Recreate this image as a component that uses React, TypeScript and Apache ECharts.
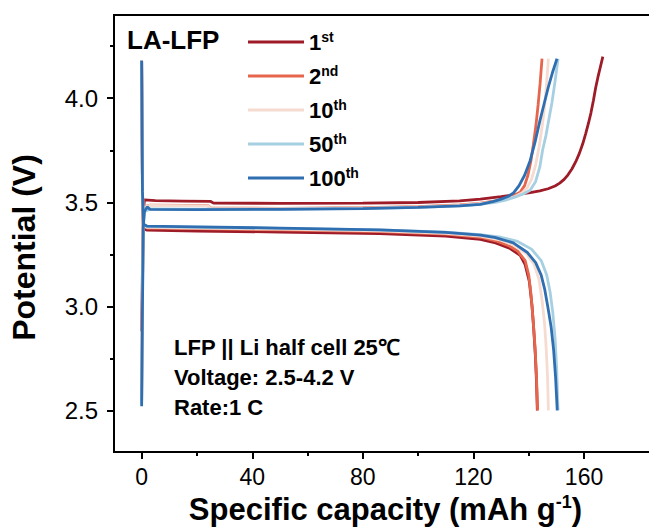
import React, { useEffect, useRef } from "react";
import * as echarts from "echarts";

// ---------- data ----------
const cycles = ["1st", "2nd", "10th", "50th", "100th"];

const xMajorTicks = [0, 40, 80, 120, 160];
const xMinorTicks = [20, 60, 100, 140];
const yMajorTicks = [2.5, 3.0, 3.5, 4.0];
const yMinorTicks = [2.75, 3.25, 3.75, 4.25];

// charge curves [capacity mAh/g, potential V]
const charge1st: [number, number][] = [
  [0, 2.88], [0.3, 3.2], [0.6, 3.45], [1, 3.512], [5, 3.508], [15, 3.506], [25, 3.504], [26, 3.496],
  [50, 3.495], [80, 3.496], [100, 3.499], [115, 3.507], [122.5, 3.515], [130, 3.527], [136, 3.538],
  [140.5, 3.547], [144, 3.555], [147, 3.565], [149.5, 3.578], [151.2, 3.592], [152.8, 3.61], [154.2, 3.632],
  [155.6, 3.66], [157, 3.695], [158.3, 3.735], [159.5, 3.78], [160.6, 3.83], [161.6, 3.88], [162.5, 3.93],
  [163.4, 3.99], [164.2, 4.05], [165, 4.1], [165.9, 4.15], [166.8, 4.2],
];
const charge2nd: [number, number][] = [
  [0, 2.55], [0.3, 3.1], [0.6, 3.42], [1, 3.478], [3, 3.486], [15, 3.485], [24, 3.484], [25, 3.472],
  [50, 3.471], [80, 3.474], [100, 3.479], [115, 3.487], [122, 3.495], [128, 3.507], [132, 3.52],
  [135, 3.535], [137, 3.55], [138.5, 3.58], [139.7, 3.63], [140.8, 3.7], [141.7, 3.78], [142.6, 3.87],
  [143.4, 3.97], [144.1, 4.07], [144.8, 4.19],
];
const charge10th: [number, number][] = [
  [0, 2.55], [0.3, 3.1], [0.6, 3.42], [1, 3.476], [3, 3.485], [15, 3.484], [24, 3.483], [25, 3.47],
  [50, 3.469], [80, 3.472], [100, 3.477], [115, 3.485], [122, 3.493], [128, 3.503], [132, 3.515],
  [135, 3.528], [137.5, 3.545], [139.5, 3.57], [141, 3.61], [142.5, 3.68], [143.8, 3.77], [144.9, 3.87],
  [145.8, 3.97], [146.5, 4.08], [147.1, 4.19],
];
const charge50th: [number, number][] = [
  [0, 2.53], [0.3, 3.05], [0.6, 3.4], [1, 3.455], [3, 3.468], [20, 3.467], [50, 3.467], [80, 3.471],
  [100, 3.476], [115, 3.483], [122, 3.49], [128, 3.5], [132, 3.512], [135, 3.525], [138, 3.54],
  [140.5, 3.558], [142.5, 3.6], [144, 3.67], [145, 3.75], [146.2, 3.82], [147.3, 3.9], [148.4, 3.98],
  [149.5, 4.08], [150.6, 4.19],
];
const charge100th: [number, number][] = [
  [0, 2.52], [0.3, 3.0], [0.6, 3.38], [1, 3.455], [2, 3.478], [3, 3.466], [20, 3.465], [50, 3.466],
  [80, 3.47], [100, 3.476], [115, 3.483], [122.5, 3.49], [127, 3.503], [130, 3.515], [132.5, 3.528],
  [134.5, 3.545], [136.5, 3.58], [138.5, 3.63], [140.5, 3.7], [142.3, 3.79], [144, 3.89], [145.5, 3.97],
  [147, 4.05], [148.5, 4.12], [150.2, 4.19],
];

// discharge curves
const discharge1st: [number, number][] = [
  [0, 4.18], [0.3, 3.5], [0.7, 3.372], [2, 3.366], [20, 3.362], [50, 3.357], [86, 3.35], [110, 3.338],
  [122.5, 3.322], [128, 3.305], [133, 3.28], [136.9, 3.245], [138.7, 3.2], [140.2, 3.12], [141.2, 3.0],
  [141.8, 2.89], [142.4, 2.76], [142.8, 2.64], [143.1, 2.5],
];
const discharge2nd: [number, number][] = [
  [0, 4.18], [0.3, 3.55], [0.7, 3.385], [2, 3.376], [20, 3.373], [50, 3.367], [86, 3.359], [110, 3.347],
  [122.5, 3.332], [128, 3.315], [133, 3.29], [136, 3.265], [138.7, 3.22], [140, 3.15], [140.8, 3.06],
  [141.6, 2.93], [142.3, 2.8], [142.8, 2.66], [143.2, 2.5],
];
const discharge10th: [number, number][] = [
  [0, 4.18], [0.3, 3.55], [0.7, 3.39], [2, 3.379], [20, 3.376], [50, 3.371], [86, 3.363], [110, 3.351],
  [122.5, 3.337], [130, 3.318], [135, 3.292], [139, 3.255], [142, 3.2], [143.7, 3.13], [144.8, 3.03],
  [145.7, 2.92], [146.3, 2.8], [146.8, 2.66], [147.1, 2.5],
];
const discharge50th: [number, number][] = [
  [0, 4.18], [0.3, 3.55], [0.7, 3.392], [2, 3.383], [20, 3.38], [50, 3.375], [86, 3.367], [110, 3.356],
  [122.5, 3.345], [130, 3.332], [136, 3.312], [141, 3.275], [144.5, 3.22], [146.5, 3.15], [147.7, 3.07],
  [148.7, 2.97], [149.5, 2.85], [150.1, 2.7], [150.6, 2.5],
];
const discharge100th: [number, number][] = [
  [0, 4.18], [0.3, 3.55], [0.7, 3.395], [2, 3.385], [20, 3.382], [50, 3.376], [86, 3.367], [110, 3.355],
  [122.5, 3.342], [128, 3.33], [134.4, 3.305], [139.4, 3.26], [142.5, 3.21], [144.5, 3.15], [145.8, 3.08],
  [147, 2.99], [148.1, 2.9], [149, 2.79], [149.7, 2.66], [150.3, 2.5],
];

const chargeCurves = [charge1st, charge2nd, charge10th, charge50th, charge100th];
const dischargeCurves = [discharge1st, discharge2nd, discharge10th, discharge50th, discharge100th];

const annotationLines = ["LFP || Li half cell 25\u2103", "Voltage: 2.5-4.2 V", "Rate:1 C"];
const sampleLabel = "LA-LFP";

// ---------- styles ----------
const colors = ["#9E1B28", "#E5664D", "#F6DBD0", "#A7CFE2", "#2F6FB1"];
const FONT = '"Liberation Sans", Arial, sans-serif';

export default function App() {
  const ref = useRef<HTMLDivElement>(null);

  useEffect(() => {
    if (!ref.current) return;
    const chart = echarts.init(ref.current, undefined, { renderer: "svg" });

    const series: any[] = [];
    cycles.forEach((name, i) => {
      [chargeCurves[i], dischargeCurves[i]].forEach((d) => {
        series.push({
          name,
          type: "line",
          data: d,
          showSymbol: false,
          symbol: "none",
          color: colors[i],
          lineStyle: { width: 2.8, color: colors[i] },
          z: 2 + i,
          silent: true,
        });
      });
    });

    const option: any = {
      animation: false,
      backgroundColor: "#fff",
      textStyle: { fontFamily: FONT },
      grid: {
        left: 114,
        top: 15,
        right: 3,
        bottom: 75,
        show: true,
        borderColor: "#000",
        borderWidth: 2,
        backgroundColor: "transparent",
        outerBoundsMode: "none",
        containLabel: false,
      },
      legend: {
        data: cycles,
        orient: "vertical",
        left: 248,
        top: 30,
        padding: 0,
        icon: "rect",
        itemWidth: 56,
        itemHeight: 3,
        itemGap: 11,
        selectedMode: false,
        formatter: (name: string) => {
          const m = name.match(/^(\d+)(\D+)$/);
          return m ? `{n|${m[1]}}{s|${m[2]}}` : name;
        },
        textStyle: {
          rich: {
            n: { fontSize: 22, fontWeight: "bold", color: "#000", fontFamily: FONT, lineHeight: 24 },
            s: { fontSize: 14, fontWeight: "bold", color: "#000", fontFamily: FONT, verticalAlign: "top", lineHeight: 14 },
          },
        },
      },
      xAxis: [
        {
          type: "value",
          min: -10,
          max: 190,
          position: "bottom",
          name: "{a|Specific capacity (mAh g}{s|-1}{a|)}",
          nameLocation: "middle",
          nameGap: 26,
          nameTextStyle: {
            padding: [0, 10, 0, 0],
            rich: {
              a: { fontSize: 31, fontWeight: "bold", color: "#000", fontFamily: FONT, lineHeight: 34 },
              s: { fontSize: 18, fontWeight: "bold", color: "#000", fontFamily: FONT, verticalAlign: "top", lineHeight: 18 },
            },
          },
          axisLine: { show: true, onZero: false, lineStyle: { color: "#000", width: 2 } },
          axisTick: { show: true, inside: false, length: 7, customValues: xMajorTicks, lineStyle: { color: "#000", width: 2 } },
          axisLabel: { show: true, customValues: xMajorTicks, fontSize: 23, color: "#000", margin: 13, fontFamily: FONT },
          splitLine: { show: false },
        },
        {
          type: "value",
          min: -10,
          max: 190,
          position: "bottom",
          axisLine: { show: false, onZero: false },
          axisTick: { show: true, inside: false, length: 4, customValues: xMinorTicks, lineStyle: { color: "#000", width: 2 } },
          axisLabel: { show: false },
          splitLine: { show: false },
        },
      ],
      yAxis: [
        {
          type: "value",
          min: 2.3,
          max: 4.4,
          position: "left",
          name: "Potential (V)",
          nameLocation: "middle",
          nameRotate: 90,
          nameGap: 74,
          nameTextStyle: { fontSize: 32, fontWeight: "bold", color: "#000", fontFamily: FONT, padding: [0, 28, 0, 0] },
          axisLine: { show: true, onZero: false, lineStyle: { color: "#000", width: 2 } },
          axisTick: { show: true, inside: false, length: 7, customValues: yMajorTicks, lineStyle: { color: "#000", width: 2 } },
          axisLabel: {
            show: true,
            customValues: yMajorTicks,
            fontSize: 24,
            color: "#000",
            margin: 16,
            fontFamily: FONT,
            formatter: (v: number) => v.toFixed(1),
          },
          splitLine: { show: false },
        },
        {
          type: "value",
          min: 2.3,
          max: 4.4,
          position: "left",
          axisLine: { show: false, onZero: false },
          axisTick: { show: true, inside: false, length: 4, customValues: yMinorTicks, lineStyle: { color: "#000", width: 2 } },
          axisLabel: { show: false },
          splitLine: { show: false },
        },
      ],
      graphic: [
        {
          type: "text",
          x: 127,
          y: 40,
          silent: true,
          style: {
            text: sampleLabel,
            font: `bold 26px ${FONT}`,
            fill: "#000",
            textAlign: "left",
            textVerticalAlign: "middle",
          },
        },
        ...annotationLines.map((t, i) => ({
          type: "text",
          x: 174,
          y: 347 + i * 30,
          silent: true,
          style: {
            text: t,
            font: `bold 22px ${FONT}`,
            fill: "#000",
            textAlign: "left",
            textVerticalAlign: "middle",
          },
        })),
      ],
      series,
    };

    chart.setOption(option);
    return () => chart.dispose();
  }, []);

  return (
    <div
      ref={ref}
      style={{ position: "fixed", left: 0, top: 0, width: 670, height: 527, background: "#fff" }}
    />
  );
}
